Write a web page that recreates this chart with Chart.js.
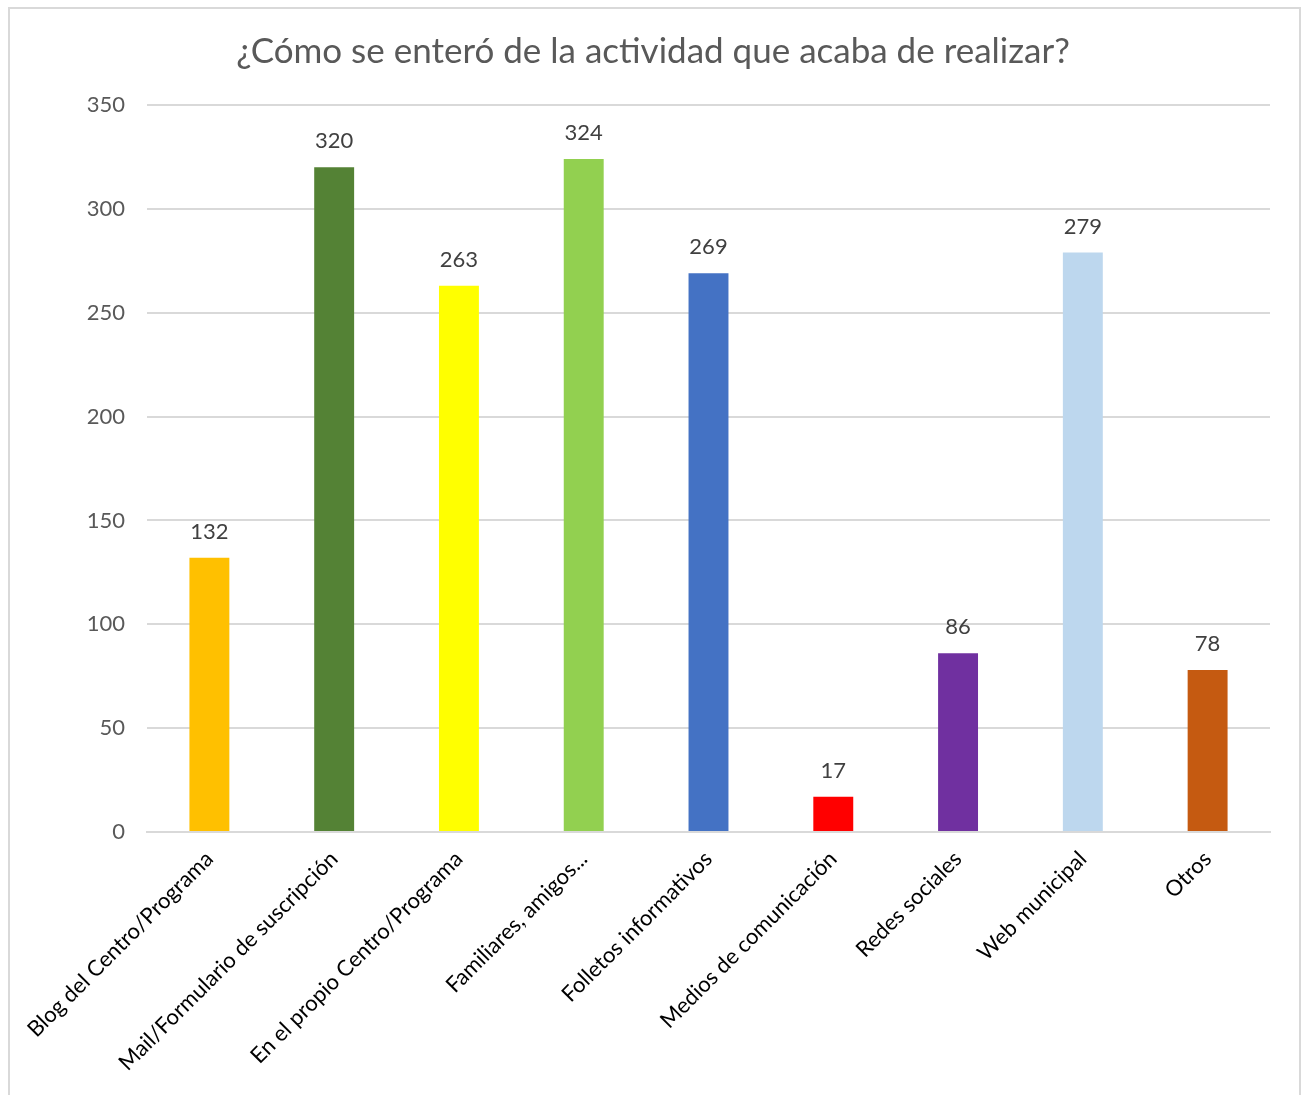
<!DOCTYPE html>
<html>
<head>
<meta charset="utf-8">
<script src="https://cdn.jsdelivr.net/npm/chart.js@4.4.0/dist/chart.umd.min.js"></script>
<style>
    html, body { margin: 0; padding: 0; background: #fff; }
    #wrap { position: relative; width: 1301px; height: 1095px; overflow: hidden; }
    #marco {
        position: absolute; left: 8px; top: 7px; width: 1289px; height: 1100px;
        border: 2px solid #d9d9d9; pointer-events: none;
    }
</style>
</head>
<body>
<div id="wrap">
    <canvas id="grafico" width="1301" height="1095"></canvas>
    <div id="marco"></div>
</div>
<script>
const categorias = [
    'Blog del Centro/Programa',
    'Mail/Formulario de suscripción',
    'En el propio Centro/Programa',
    'Familiares, amigos...',
    'Folletos informativos',
    'Medios de comunicación',
    'Redes sociales',
    'Web municipal',
    'Otros'
];
const respuestas = [132, 320, 263, 324, 269, 17, 86, 279, 78];
const colores = ['#FFC000', '#548235', '#FFFF00', '#92D050', '#4472C4', '#FF0000', '#7030A0', '#BDD7EE', '#C55A11'];
const ticksY = [0, 50, 100, 150, 200, 250, 300, 350];

const fuente = 'Lato, Carlito, Calibri, sans-serif';

// Etiquetas de valor encima de cada barra
const etiquetasValor = {
    id: 'etiquetasValor',
    afterDatasetsDraw(chart) {
        const ctx = chart.ctx;
        const meta = chart.getDatasetMeta(0);
        ctx.save();
        ctx.font = '22px ' + fuente;
        ctx.fillStyle = '#404040';
        ctx.textAlign = 'center';
        ctx.textBaseline = 'middle';
        meta.data.forEach((barra, i) => {
            ctx.fillText(respuestas[i], barra.x, barra.y - 26);
        });
        ctx.restore();
    }
};

new Chart(document.getElementById('grafico').getContext('2d'), {
    type: 'bar',
    data: {
        labels: categorias,
        datasets: [{
            data: respuestas,
            backgroundColor: colores,
            barPercentage: 0.32,
            categoryPercentage: 1
        }]
    },
    options: {
        responsive: false,
        animation: false,
        layout: { padding: { left: 36, right: 31, top: 0, bottom: 0 } },
        plugins: {
            legend: { display: false },
            tooltip: { enabled: false },
            title: {
                display: true,
                text: '¿Cómo se enteró de la actividad que acaba de realizar?',
                color: '#595959',
                font: { family: fuente, size: 35, weight: 'normal' },
                padding: { top: 31, bottom: 32 }
            }
        },
        scales: {
            x: {
                grid: { display: false, drawTicks: false },
                border: { color: '#d9d9d9', width: 2 },
                ticks: {
                    color: '#000',
                    font: { family: fuente, size: 22 },
                    minRotation: 45,
                    maxRotation: 45,
                    padding: 14,
                    autoSkip: false
                },
                afterFit(scale) { scale.height = 263; }
            },
            y: {
                min: 0,
                max: 350,
                afterBuildTicks(scale) { scale.ticks = ticksY.map(v => ({ value: v })); },
                grid: { color: '#d9d9d9', lineWidth: 2, drawTicks: false },
                border: { display: false },
                ticks: {
                    color: '#595959',
                    font: { family: fuente, size: 22 },
                    padding: 22
                },
                afterFit(scale) { scale.width = 111; }
            }
        }
    },
    plugins: [etiquetasValor]
});
</script>
</body>
</html>
